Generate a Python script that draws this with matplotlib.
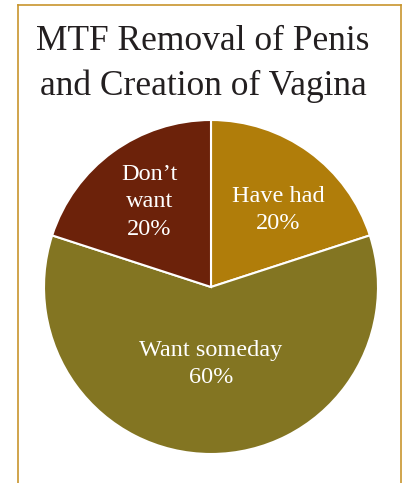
import numpy as np
import matplotlib
matplotlib.use("Agg")
import matplotlib.pyplot as plt
from matplotlib.lines import Line2D

# data
labels = ["Have had", "Want someday", "Don\u2019t\nwant"]
values = [20, 60, 20]
colors = ["#B07D0A", "#837522", "#6C220A"]
title_lines = ["MTF Removal of Penis", "and Creation of Vagina"]

# label placement (radius fraction, angle nudge in degrees)
label_dist = [0.61, 0.46, 0.63]
label_nudge = [-5, 0, 0]

W, H = 405, 483
fig = plt.figure(figsize=(W / 100, H / 100), dpi=100)
fig.patch.set_facecolor("white")

serif = ["Liberation Serif", "DejaVu Serif"]

# pie axes: centre (211, 287) px, radius 167 px
cx, cy, r = 211, 287, 167
ax = fig.add_axes([(cx - r) / W, 1 - (cy + r) / H, 2 * r / W, 2 * r / H])
wedges, _ = ax.pie(values, colors=colors, startangle=90, counterclock=False,
                   radius=1, wedgeprops=dict(edgecolor="white", linewidth=1.5))
ax.set_xlim(-1, 1)
ax.set_ylim(-1, 1)
ax.set_aspect("equal")
ax.axis("off")

for w, lab, v, d, n in zip(wedges, labels, values, label_dist, label_nudge):
    ang = np.deg2rad((w.theta1 + w.theta2) / 2 + n)
    ax.text(d * np.cos(ang), d * np.sin(ang), "%s\n%d%%" % (lab, v),
            ha="center", va="center", color="white", fontsize=17.5,
            family=serif, linespacing=1.4)

# titles
fig.text(203 / W, 1 - 50 / H, title_lines[0], ha="center", va="baseline",
         fontsize=25.5, family=serif, color="#231f20")
fig.text(203 / W, 1 - 95 / H, title_lines[1], ha="center", va="baseline",
         fontsize=25.5, family=serif, color="#231f20")

# open frame (left, top, right)
bc = "#C8952E"
fig.add_artist(Line2D([18 / W, 18 / W], [0, 1 - 5 / H], color=bc, lw=1.2, transform=fig.transFigure))
fig.add_artist(Line2D([401 / W, 401 / W], [0, 1 - 5 / H], color=bc, lw=1.2, transform=fig.transFigure))
fig.add_artist(Line2D([18 / W, 401 / W], [1 - 5 / H, 1 - 5 / H], color=bc, lw=1.2, transform=fig.transFigure))

fig.savefig("out.png", dpi=100)
